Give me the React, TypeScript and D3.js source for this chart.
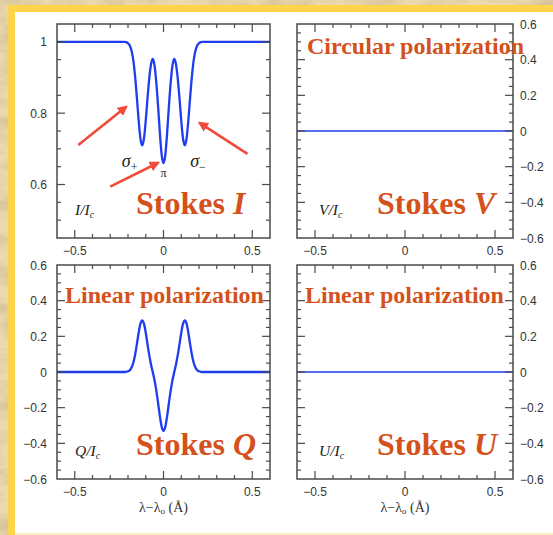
import React, { useEffect, useRef } from "react";
import * as d3 from "d3";

// wavelength offset from line centre (Angstrom)
const waves = [
  -0.6, -0.22, -0.21, -0.2, -0.19, -0.18, -0.17, -0.16, -0.15, -0.14, -0.13,
  -0.12, -0.11, -0.1, -0.09, -0.08, -0.07, -0.06, -0.05, -0.04, -0.03, -0.02,
  -0.01, 0, 0.01, 0.02, 0.03, 0.04, 0.05, 0.06, 0.07, 0.08, 0.09, 0.1, 0.11,
  0.12, 0.13, 0.14, 0.15, 0.16, 0.17, 0.18, 0.19, 0.2, 0.21, 0.22, 0.6,
];
const stokesI = [
  1, 1, 0.999, 0.996, 0.99, 0.975, 0.948, 0.903, 0.844, 0.78, 0.729, 0.71,
  0.729, 0.779, 0.842, 0.899, 0.938, 0.952, 0.932, 0.883, 0.816, 0.741, 0.682,
  0.66, 0.682, 0.741, 0.816, 0.883, 0.932, 0.952, 0.938, 0.899, 0.842, 0.779,
  0.729, 0.71, 0.729, 0.78, 0.844, 0.903, 0.948, 0.975, 0.99, 0.996, 0.999, 1,
  1,
];
const stokesQ = [
  0, 0, 0.001, 0.004, 0.01, 0.025, 0.052, 0.097, 0.156, 0.22, 0.271, 0.29,
  0.271, 0.22, 0.155, 0.093, 0.041, -0.003, -0.049, -0.107, -0.177, -0.25,
  -0.308, -0.33, -0.308, -0.25, -0.177, -0.107, -0.049, -0.003, 0.041, 0.093,
  0.155, 0.22, 0.271, 0.29, 0.271, 0.22, 0.156, 0.097, 0.052, 0.025, 0.01,
  0.004, 0.001, 0, 0,
];
const flatWaves = [-0.6, 0.6];
const stokesV = [0, 0];
const stokesU = [0, 0];

const xTicks = [-0.5, 0, 0.5];
const xTickLabels = ["\u22120.5", "0", "0.5"];
const iTicks = [0.6, 0.8, 1];
const iTickLabels = ["0.6", "0.8", "1"];
const polTicks = [-0.6, -0.4, -0.2, 0, 0.2, 0.4, 0.6];
const polTickLabels = ["\u22120.6", "\u22120.4", "\u22120.2", "0", "0.2", "0.4", "0.6"];

// annotation arrows in the Stokes I panel: [x0, y0, x1, y1] in data units
const sigmaArrows = [
  [-0.48, 0.711, -0.21, 0.818],
  [-0.3, 0.594, -0.03, 0.661],
  [0.473, 0.686, 0.203, 0.773],
];

const ORANGE = "#d4511b";
const BLUE = "#1f3cf0";
const SERIF = "'Liberation Serif', 'Times New Roman', serif";

const panels = [
  { id: "I", x0: 57, x1: 270, y0: 24, y1: 238, yDomain: [0.45, 1.05], ticks: iTicks, labels: iTickLabels, side: "left", xs: waves, ys: stokesI, lw: 2.3, bottom: false },
  { id: "V", x0: 297, x1: 513, y0: 24, y1: 238, yDomain: [-0.6, 0.6], ticks: polTicks, labels: polTickLabels, side: "right", xs: flatWaves, ys: stokesV, lw: 1.3, bottom: false },
  { id: "Q", x0: 57, x1: 270, y0: 265, y1: 479, yDomain: [-0.6, 0.6], ticks: polTicks, labels: polTickLabels, side: "left", xs: waves, ys: stokesQ, lw: 2.3, bottom: true },
  { id: "U", x0: 297, x1: 513, y0: 265, y1: 479, yDomain: [-0.6, 0.6], ticks: polTicks, labels: polTickLabels, side: "right", xs: flatWaves, ys: stokesU, lw: 1.3, bottom: true },
];

const StokesChart = () => {
  const ref = useRef<SVGSVGElement>(null);

  useEffect(() => {
    const svg = d3.select(ref.current);
    svg.selectAll("*").remove();

    const defs = svg.append("defs");
    const filt = defs.append("filter").attr("id", "paper").attr("x", 0).attr("y", 0).attr("width", "100%").attr("height", "100%");
    filt.append("feTurbulence").attr("type", "fractalNoise").attr("baseFrequency", "0.03 0.06").attr("numOctaves", 4).attr("seed", 7);
    filt.append("feColorMatrix").attr("type", "matrix")
      .attr("values", "0 0 0 0 0.62  0 0 0 0 0.48  0 0 0 0 0.3  1.6 0 0 0 -0.62");
    defs.append("marker").attr("id", "arrowhead")
      .attr("viewBox", "0 0 10 10").attr("refX", 8).attr("refY", 5)
      .attr("markerWidth", 4).attr("markerHeight", 4).attr("orient", "auto")
      .append("path").attr("d", "M0,0 L10,5 L0,10 Z").attr("fill", "#f04b3c");

    // parchment background + yellow frame
    svg.append("rect").attr("width", 553).attr("height", 535).attr("fill", "#ecd9ae");
    svg.append("rect").attr("width", 553).attr("height", 535).attr("filter", "url(#paper)");
    svg.append("rect").attr("x", 8).attr("y", 5).attr("width", 560).attr("height", 540).attr("fill", "#fdd54a");
    svg.append("rect").attr("x", 15).attr("y", 12).attr("width", 560).attr("height", 521).attr("fill", "#ffffff");
    svg.append("rect").attr("x", 15).attr("y", 533).attr("width", 560).attr("height", 3).attr("fill", "#fdf0c0");

    panels.forEach((p) => {
      const x = d3.scaleLinear().domain([-0.6, 0.6]).range([p.x0, p.x1]);
      const y = d3.scaleLinear().domain(p.yDomain).range([p.y1, p.y0]);
      const g = svg.append("g");

      const clipId = "clip" + p.id;
      defs.append("clipPath").attr("id", clipId).append("rect")
        .attr("x", p.x0).attr("y", p.y0).attr("width", p.x1 - p.x0).attr("height", p.y1 - p.y0);

      const line = d3.line<number>()
        .x((d, i) => x(p.xs[i]))
        .y((d) => y(d))
        .curve(d3.curveMonotoneX);
      g.append("path")
        .datum(p.ys)
        .attr("clip-path", "url(#" + clipId + ")")
        .attr("d", line)
        .attr("fill", "none")
        .attr("stroke", BLUE)
        .attr("stroke-width", p.lw);

      // ticks inward on all four sides
      const axisCol = "#4a4a4a";
      const xMinor = d3.range(-5, 6).map((k) => k / 10);
      const yMinor = d3.range(Math.round(p.yDomain[0] * 20) + 1, Math.round(p.yDomain[1] * 20)).map((k) => k / 20);
      const isMajorX = (v: number) => xTicks.some((t) => Math.abs(t - v) < 1e-6);
      const isMajorY = (v: number) => p.ticks.some((t) => Math.abs(t - v) < 1e-6);
      xMinor.forEach((v) => {
        const len = isMajorX(v) ? 8 : 4;
        g.append("line").attr("x1", x(v)).attr("x2", x(v)).attr("y1", p.y1).attr("y2", p.y1 - len).attr("stroke", axisCol).attr("stroke-width", 1.2);
        g.append("line").attr("x1", x(v)).attr("x2", x(v)).attr("y1", p.y0).attr("y2", p.y0 + len).attr("stroke", axisCol).attr("stroke-width", 1.2);
      });
      yMinor.forEach((v) => {
        const len = isMajorY(v) ? 8 : 4;
        g.append("line").attr("y1", y(v)).attr("y2", y(v)).attr("x1", p.x0).attr("x2", p.x0 + len).attr("stroke", axisCol).attr("stroke-width", 1.2);
        g.append("line").attr("y1", y(v)).attr("y2", y(v)).attr("x1", p.x1).attr("x2", p.x1 - len).attr("stroke", axisCol).attr("stroke-width", 1.2);
      });
      g.append("rect")
        .attr("x", p.x0).attr("y", p.y0).attr("width", p.x1 - p.x0).attr("height", p.y1 - p.y0)
        .attr("fill", "none").attr("stroke", axisCol).attr("stroke-width", 1.5);

      // tick labels
      g.selectAll(".xl").data(xTicks).enter().append("text")
        .attr("x", (d) => x(d)).attr("y", p.y1 + 17)
        .attr("text-anchor", "middle")
        .attr("font-family", "'Liberation Sans', Arial, sans-serif")
        .attr("font-size", 12).attr("fill", "#333")
        .text((d, i) => xTickLabels[i]);
      g.selectAll(".yl").data(p.ticks).enter().append("text")
        .attr("x", p.side === "left" ? p.x0 - 10 : p.x1 + 7)
        .attr("y", (d) => y(d) + 4.5)
        .attr("text-anchor", p.side === "left" ? "end" : "start")
        .attr("font-family", "'Liberation Sans', Arial, sans-serif")
        .attr("font-size", 12).attr("fill", "#333")
        .text((d, i) => p.labels[i]);

      // X/I_c style ordinate label
      const yl = g.append("text")
        .attr("x", p.x0 + (p.side === "left" ? 18 : 22)).attr("y", p.y1 - 23)
        .attr("font-family", SERIF).attr("font-size", 15.5).attr("font-style", "italic").attr("fill", "#222");
      yl.append("tspan").text(p.id + "/I");
      yl.append("tspan").attr("font-size", 10).attr("dy", 3).text("c");

      // Stokes title
      const st = g.append("text")
        .attr("x", p.side === "left" ? p.x0 + 79 : p.x0 + 80)
        .attr("y", p.y1 - 24)
        .attr("font-family", SERIF).attr("font-size", 32).attr("font-weight", "bold").attr("fill", ORANGE);
      st.append("tspan").text("Stokes ");
      st.append("tspan").attr("font-style", "italic").text(p.id);

      if (p.id !== "I") {
        g.append("text")
          .attr("x", p.x0 + (p.id === "V" ? 10 : 8))
          .attr("y", p.id === "V" ? p.y0 + 30 : p.y0 + 38)
          .attr("font-family", SERIF).attr("font-size", 24).attr("font-weight", "bold").attr("fill", ORANGE)
          .text(p.id === "V" ? "Circular polarization" : "Linear polarization");
      }

      if (p.bottom) {
        const xt = g.append("text")
          .attr("x", (p.x0 + p.x1) / 2).attr("y", p.y1 + 33)
          .attr("text-anchor", "middle")
          .attr("font-family", SERIF).attr("font-size", 14).attr("fill", "#333");
        xt.append("tspan").text("\u03bb\u2212\u03bb");
        xt.append("tspan").attr("font-size", 9).attr("dy", 2).text("o");
        xt.append("tspan").attr("dy", -2).text(" (\u00c5)");
      }

      if (p.id === "I") {
        sigmaArrows.forEach((a) => {
          g.append("line")
            .attr("x1", x(a[0])).attr("y1", y(a[1]))
            .attr("x2", x(a[2])).attr("y2", y(a[3]))
            .attr("stroke", "#f04b3c").attr("stroke-width", 2.6)
            .attr("marker-end", "url(#arrowhead)");
        });
        const sig = (sx: number, sub: string) => {
          const t = g.append("text").attr("x", x(sx)).attr("y", y(0.65))
            .attr("font-family", SERIF).attr("font-size", 18).attr("font-style", "italic").attr("fill", "#222");
          t.append("tspan").text("\u03c3");
          t.append("tspan").attr("font-size", 12).attr("font-style", "normal").attr("dy", 4).text(sub);
        };
        sig(-0.235, "+");
        sig(0.15, "\u2212");
        g.append("text").attr("x", x(0)).attr("y", y(0.622))
          .attr("text-anchor", "middle")
          .attr("font-family", SERIF).attr("font-size", 12).attr("fill", "#222")
          .text("\u03c0");
      }
    });
  }, []);

  return (
    <svg
      ref={ref}
      width={553}
      height={535}
      style={{ position: "absolute", left: 0, top: 0 }}
    />
  );
};

export default function App() {
  return <StokesChart />;
}
